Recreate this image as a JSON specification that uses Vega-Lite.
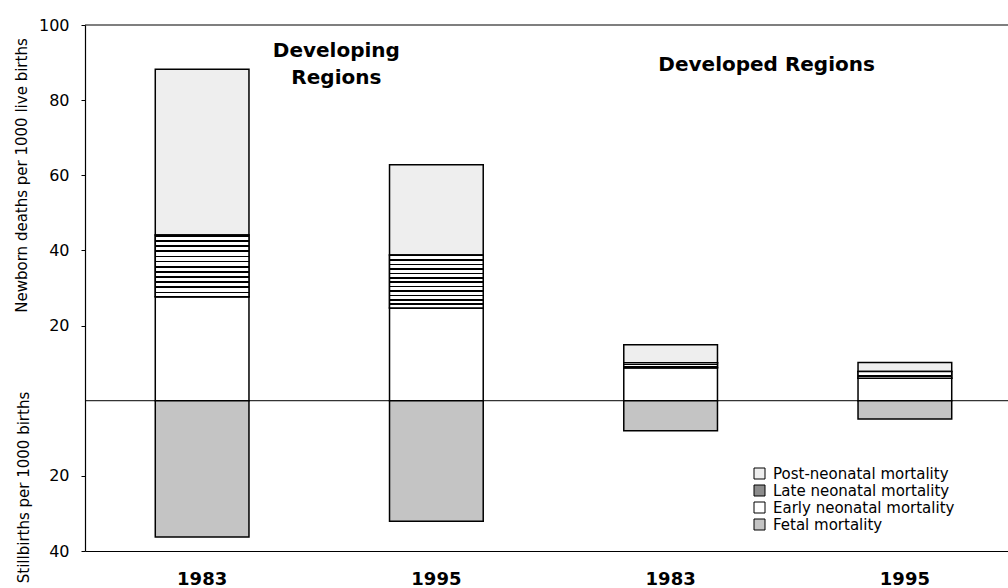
{
  "$schema": "https://vega.github.io/schema/vega-lite/v6.json",
  "width": 923,
  "height": 526,
  "autosize": "none",
  "padding": {"left": 85, "top": 25, "right": 0, "bottom": 37},
  "background": "white",
  "config": {
    "view": {"stroke": null},
    "font": "DejaVu Sans",
    "axis": {"labelFont": "DejaVu Sans", "titleFont": "DejaVu Sans", "labelColor": "black", "titleColor": "black"},
    "legend": {"labelFont": "DejaVu Sans"}
  },
  "datasets": {
    "segments": [
      {"bar": "Developing 1983", "category": "Early neonatal mortality", "value": 27.7},
      {"bar": "Developing 1983", "category": "Late neonatal mortality", "value": 16.4},
      {"bar": "Developing 1983", "category": "Post-neonatal mortality", "value": 44.1},
      {"bar": "Developing 1983", "category": "Fetal mortality", "value": -36.3},
      {"bar": "Developing 1995", "category": "Early neonatal mortality", "value": 24.7},
      {"bar": "Developing 1995", "category": "Late neonatal mortality", "value": 14.1},
      {"bar": "Developing 1995", "category": "Post-neonatal mortality", "value": 24.0},
      {"bar": "Developing 1995", "category": "Fetal mortality", "value": -32.1},
      {"bar": "Developed 1983", "category": "Early neonatal mortality", "value": 8.8},
      {"bar": "Developed 1983", "category": "Late neonatal mortality", "value": 1.3},
      {"bar": "Developed 1983", "category": "Post-neonatal mortality", "value": 4.8},
      {"bar": "Developed 1983", "category": "Fetal mortality", "value": -8.0},
      {"bar": "Developed 1995", "category": "Early neonatal mortality", "value": 6.0},
      {"bar": "Developed 1995", "category": "Late neonatal mortality", "value": 1.8},
      {"bar": "Developed 1995", "category": "Post-neonatal mortality", "value": 2.4},
      {"bar": "Developed 1995", "category": "Fetal mortality", "value": -4.9}
    ]
  },
  "layer": [
    {
      "data": {"values": [{}]},
      "mark": {"type": "rule", "color": "black", "strokeWidth": 1},
      "encoding": {
        "y": {
          "datum": 0,
          "type": "quantitative",
          "axis": {
            "orient": "left",
            "title": "Stillbirths per 1000 births",
            "labels": false,
            "ticks": false,
            "domain": false,
            "grid": false,
            "titleX": -57,
            "titleY": 462,
            "titleAngle": -90,
            "titleAlign": "center",
            "titleBaseline": "alphabetic",
            "titleFontSize": 15,
            "titleFontWeight": "normal"
          }
        }
      }
    },
    {
      "data": {"values": [{}]},
      "mark": {"type": "rule", "color": "black", "strokeWidth": 1.2},
      "encoding": {
        "y": {"datum": 100, "type": "quantitative", "axis": null}
      }
    },
    {
      "data": {"name": "segments"},
      "transform": [
        {"stack": "value", "groupby": ["bar"], "sort": [{"field": "category", "order": "ascending"}], "as": ["lo", "hi"]}
      ],
      "mark": {"type": "bar", "stroke": "black", "strokeWidth": 1.5},
      "encoding": {
        "x": {
          "field": "bar",
          "type": "nominal",
          "title": null,
          "scale": {
            "domain": ["Developing 1983", "Developing 1995", "Developed 1983", "Developed 1995"],
            "range": [0, 937],
            "paddingInner": 0.6,
            "paddingOuter": 0.3
          },
          "axis": {
            "title": null,
            "labelExpr": "split(datum.label, ' ')[1]",
            "labelFontWeight": "bold",
            "labelFontSize": 18,
            "labelAngle": 0,
            "labelBaseline": "alphabetic",
            "labelPadding": 33,
            "ticks": false,
            "tickSize": 0,
            "domainColor": "black",
            "domainWidth": 1.2,
            "grid": false
          }
        },
        "y": {
          "field": "lo",
          "type": "quantitative",
          "scale": {"domain": [-40, 100], "nice": false, "zero": false},
          "axis": {
            "orient": "left",
            "values": [-40, -20, 20, 40, 60, 80, 100],
            "labelExpr": "abs(datum.value)",
            "labelFontSize": 16,
            "labelPadding": 12,
            "tickSize": 4,
            "tickColor": "black",
            "domainColor": "black",
            "domainWidth": 1.2,
            "grid": false,
            "title": "Newborn deaths per 1000 live births",
            "titleX": -59,
            "titleY": 150,
            "titleAngle": -90,
            "titleAlign": "center",
            "titleBaseline": "alphabetic",
            "titleFontSize": 15,
            "titleFontWeight": "normal"
          }
        },
        "y2": {"field": "hi"},
        "color": {
          "field": "category",
          "type": "nominal",
          "scale": {
            "domain": ["Post-neonatal mortality", "Late neonatal mortality", "Early neonatal mortality", "Fetal mortality"],
            "range": ["#eeeeee", "#8c8c8c", "#ffffff", "#c4c4c4"]
          },
          "legend": {
            "title": null,
            "orient": "none",
            "legendX": 667,
            "legendY": 441,
            "symbolType": "square",
            "symbolSize": 121,
            "symbolStrokeColor": "black",
            "symbolStrokeWidth": 1,
            "symbolOpacity": 1,
            "labelFontSize": 15,
            "labelColor": "black",
            "labelOffset": 6,
            "labelLimit": 300,
            "rowPadding": 1,
            "padding": 0
          }
        }
      }
    },
    {
      "data": {"name": "segments"},
      "transform": [
        {"stack": "value", "groupby": ["bar"], "sort": [{"field": "category", "order": "ascending"}], "as": ["lo", "hi"]},
        {"filter": "datum.category === 'Late neonatal mortality'"}
      ],
      "mark": {
        "type": "bar",
        "stroke": "black",
        "strokeWidth": 1.5,
        "fill": {
          "gradient": "linear",
          "x1": 0, "y1": 0, "x2": 0, "y2": 1,
          "stops": [
            {"offset": 0, "color": "black"}, {"offset": 0.0292, "color": "black"}, {"offset": 0.0292, "color": "white"}, {"offset": 0.0833, "color": "white"},
            {"offset": 0.0833, "color": "black"}, {"offset": 0.1125, "color": "black"}, {"offset": 0.1125, "color": "white"}, {"offset": 0.1667, "color": "white"},
            {"offset": 0.1667, "color": "black"}, {"offset": 0.1958, "color": "black"}, {"offset": 0.1958, "color": "white"}, {"offset": 0.25, "color": "white"},
            {"offset": 0.25, "color": "black"}, {"offset": 0.2792, "color": "black"}, {"offset": 0.2792, "color": "white"}, {"offset": 0.3333, "color": "white"},
            {"offset": 0.3333, "color": "black"}, {"offset": 0.3625, "color": "black"}, {"offset": 0.3625, "color": "white"}, {"offset": 0.4167, "color": "white"},
            {"offset": 0.4167, "color": "black"}, {"offset": 0.4458, "color": "black"}, {"offset": 0.4458, "color": "white"}, {"offset": 0.5, "color": "white"},
            {"offset": 0.5, "color": "black"}, {"offset": 0.5292, "color": "black"}, {"offset": 0.5292, "color": "white"}, {"offset": 0.5833, "color": "white"},
            {"offset": 0.5833, "color": "black"}, {"offset": 0.6125, "color": "black"}, {"offset": 0.6125, "color": "white"}, {"offset": 0.6667, "color": "white"},
            {"offset": 0.6667, "color": "black"}, {"offset": 0.6958, "color": "black"}, {"offset": 0.6958, "color": "white"}, {"offset": 0.75, "color": "white"},
            {"offset": 0.75, "color": "black"}, {"offset": 0.7792, "color": "black"}, {"offset": 0.7792, "color": "white"}, {"offset": 0.8333, "color": "white"},
            {"offset": 0.8333, "color": "black"}, {"offset": 0.8625, "color": "black"}, {"offset": 0.8625, "color": "white"}, {"offset": 0.9167, "color": "white"},
            {"offset": 0.9167, "color": "black"}, {"offset": 0.9458, "color": "black"}, {"offset": 0.9458, "color": "white"}, {"offset": 1, "color": "white"}
          ]
        }
      },
      "encoding": {
        "x": {"field": "bar", "type": "nominal", "title": null},
        "y": {"field": "lo", "type": "quantitative", "axis": null},
        "y2": {"field": "hi"}
      }
    },
    {
      "data": {"values": [{"bar": "Developing 1995", "label": "Developing\nRegions"}]},
      "mark": {"type": "text", "font": "DejaVu Sans", "fontWeight": "bold", "fontSize": 20, "align": "center", "baseline": "alphabetic", "lineBreak": "\n", "lineHeight": 27, "dx": -100, "color": "black"},
      "encoding": {
        "x": {"field": "bar", "type": "nominal", "title": null},
        "y": {"datum": 91.5, "type": "quantitative", "axis": null},
        "text": {"field": "label"}
      }
    },
    {
      "data": {"values": [{"bar": "Developed 1983", "label": "Developed Regions"}]},
      "mark": {"type": "text", "font": "DejaVu Sans", "fontWeight": "bold", "fontSize": 20, "align": "center", "baseline": "alphabetic", "dx": 96, "color": "black"},
      "encoding": {
        "x": {"field": "bar", "type": "nominal", "title": null},
        "y": {"datum": 87.8, "type": "quantitative", "axis": null},
        "text": {"field": "label"}
      }
    }
  ],
  "resolve": {"axis": {"y": "independent"}}
}
